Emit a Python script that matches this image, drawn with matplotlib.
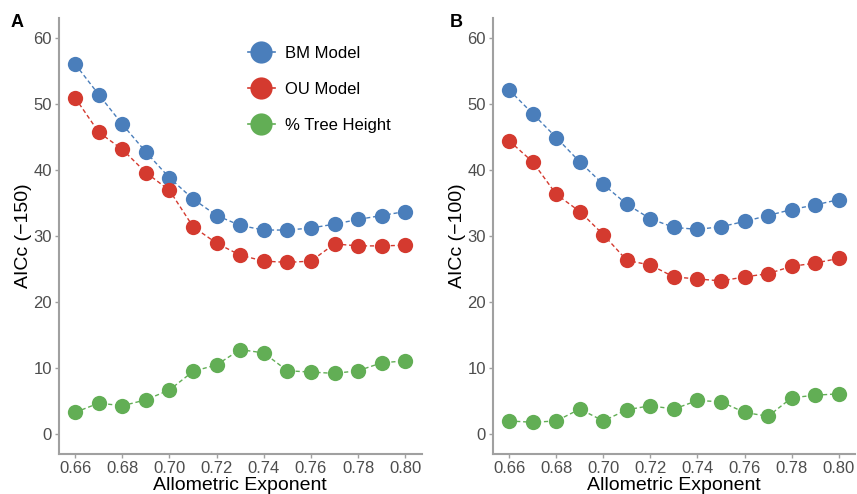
import matplotlib
matplotlib.use("Agg")
import matplotlib.pyplot as plt
from matplotlib.lines import Line2D

plt.rcParams['font.family'] = ['Liberation Sans', 'DejaVu Sans']

exponent = [0.66, 0.67, 0.68, 0.69, 0.70, 0.71, 0.72, 0.73, 0.74, 0.75, 0.76, 0.77, 0.78, 0.79, 0.80]

bm_a = [56.0, 51.4, 46.9, 42.7, 38.8, 35.6, 33.1, 31.6, 30.9, 30.9, 31.2, 31.8, 32.5, 33.1, 33.7]
ou_a = [50.9, 45.7, 43.1, 39.6, 36.9, 31.4, 28.9, 27.1, 26.2, 26.0, 26.2, 28.8, 28.5, 28.5, 28.6]
th_a = [3.3, 4.7, 4.3, 5.2, 6.7, 9.5, 10.5, 12.8, 12.3, 9.6, 9.4, 9.2, 9.6, 10.8, 11.1]

bm_b = [52.1, 48.5, 44.9, 41.2, 37.8, 34.8, 32.6, 31.3, 31.0, 31.4, 32.2, 33.1, 34.0, 34.7, 35.5]
ou_b = [44.4, 41.2, 36.3, 33.7, 30.2, 26.3, 25.6, 23.8, 23.5, 23.2, 23.8, 24.3, 25.4, 25.9, 26.6]
th_b = [2.0, 1.8, 2.0, 3.8, 2.0, 3.7, 4.3, 3.8, 5.1, 4.9, 3.3, 2.7, 5.5, 5.9, 6.1]

series_names = ["BM Model", "OU Model", "% Tree Height"]
colors = ["#4A7EBB", "#D43A2F", "#62AE55"]
xticks = [0.66, 0.68, 0.70, 0.72, 0.74, 0.76, 0.78, 0.80]
yticks = [0, 10, 20, 30, 40, 50, 60]

fig = plt.figure(figsize=(8.57, 4.94), dpi=100)
axA = fig.add_axes([0.0685, 0.081, 0.4236, 0.8826])
axB = fig.add_axes([0.575, 0.081, 0.4228, 0.8826])

def draw(ax, data, ylabel):
    for vals, c in zip(data, colors):
        ax.plot(exponent, vals, color=c, linestyle=(0, (3, 2)), linewidth=1.0,
                marker='o', markersize=11, markeredgewidth=0, zorder=3)
    ax.set_xlim(0.653, 0.807)
    ax.set_ylim(-3, 63)
    ax.set_xticks(xticks)
    ax.set_xticklabels([f"{t:.2f}" for t in xticks])
    ax.set_yticks(yticks)
    for s in ['top', 'right']:
        ax.spines[s].set_visible(False)
    for s in ['left', 'bottom']:
        ax.spines[s].set_color('#A0A0A0')
        ax.spines[s].set_linewidth(1.5)
    ax.tick_params(axis='both', colors='#A0A0A0', length=3, width=1.0,
                   labelcolor='#4D4D4D', labelsize=12, pad=2)
    ax.set_xlabel("Allometric Exponent", fontsize=14, color='black', labelpad=1)
    ax.set_ylabel(ylabel, fontsize=14, color='black', labelpad=1)

draw(axA, [bm_a, ou_a, th_a], "AICc (\u2212150)")
draw(axB, [bm_b, ou_b, th_b], "AICc (\u2212100)")

handles = [Line2D([0], [0], color=c, linestyle='-', linewidth=1.2, marker='o',
                  markersize=16, markeredgewidth=0) for c in colors]
axA.legend(handles, series_names, loc='upper left', bbox_to_anchor=(0.48, 0.97),
           frameon=False, fontsize=12, handlelength=1.6, handletextpad=0.6,
           labelspacing=1.25)

fig.text(0.012, 0.955, "A", fontsize=13, fontweight='bold', va='center')
fig.text(0.525, 0.955, "B", fontsize=13, fontweight='bold', va='center')

fig.savefig("out.png", dpi=100)
